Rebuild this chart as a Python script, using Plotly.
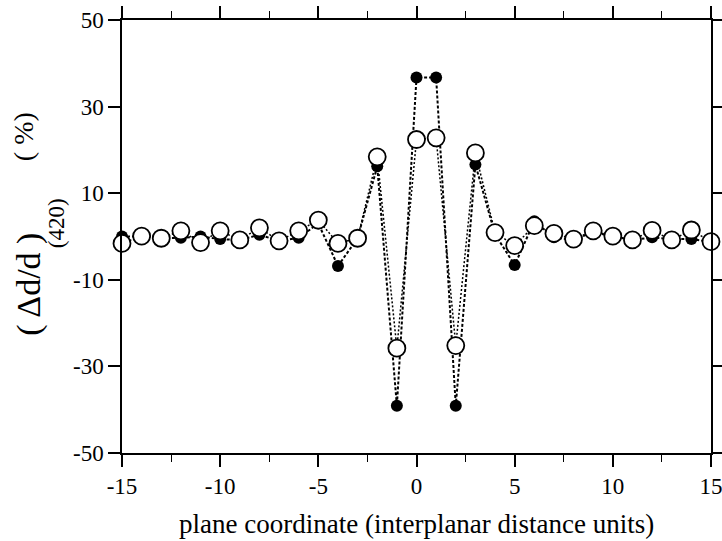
import plotly.graph_objects as go

# plane coordinate (interplanar distance units)
plane = list(range(-15, 16))

# filled circles: (Δd/d)(420) in %
filled_vals = [0.0, 0.0, -0.4, -0.3, 0.0, -0.6, -0.8, 0.4, -1.0, -0.3,
               3.0, -6.8, -0.4, 16.2, -39.1, 36.7, 36.7, -39.1, 16.6, 0.5,
               -6.6, 3.5, -0.2, -0.8, 1.0, 0.0, -0.8, -0.2, -0.6, -0.6, -1.2]

# open circles: (Δd/d)(420) in %
open_vals = [-1.6, 0.1, -0.4, 1.3, -1.4, 1.3, -0.8, 2.0, -1.0, 1.3,
             3.8, -1.6, -0.4, 18.4, -25.8, 22.4, 22.8, -25.2, 19.3, 0.9,
             -2.1, 2.5, 0.7, -0.6, 1.3, 0.1, -0.8, 1.4, -0.8, 1.5, -1.2]

x_ticks = [-15, -10, -5, 0, 5, 10, 15]
y_ticks = [-50, -30, -10, 10, 30, 50]

FONT = "Liberation Serif"

fig = go.Figure()
fig.add_trace(go.Scatter(
    x=plane, y=filled_vals, mode="lines+markers",
    line=dict(color="black", width=2, dash="3px,2px"),
    marker=dict(symbol="circle", size=12, color="black"),
    cliponaxis=False, showlegend=False))
fig.add_trace(go.Scatter(
    x=plane, y=open_vals, mode="lines+markers",
    line=dict(color="black", width=1.5, dash="2px,2px"),
    marker=dict(symbol="circle", size=17, color="white",
                line=dict(color="black", width=1.8)),
    cliponaxis=False, showlegend=False))

axis_common = dict(showline=True, linecolor="black", linewidth=1.5,
                   mirror="allticks", ticks="outside", ticklen=12,
                   tickwidth=1.5, tickcolor="black", showgrid=False,
                   zeroline=False, automargin=False,
                   ticklabeloverflow="allow",
                   tickfont=dict(family=FONT, size=23, color="black"))

fig.update_xaxes(range=[-15, 15], tickvals=x_ticks,
                 ticktext=[str(v) for v in x_ticks],
                 minor=dict(dtick=2.5, tick0=0, ticks="outside", ticklen=7,
                            tickwidth=1.2, tickcolor="black", showgrid=False),
                 **axis_common)
fig.update_yaxes(range=[-50, 50], tickvals=y_ticks,
                 ticktext=[str(v) for v in y_ticks],
                 **axis_common)

fig.add_annotation(text="plane coordinate (interplanar distance units)",
                   xref="paper", yref="paper", x=0.5, y=-0.165,
                   xanchor="center", yanchor="middle", showarrow=False,
                   font=dict(family=FONT, size=27, color="black"))
fig.add_annotation(text="( Δd/d )", xref="paper", yref="paper",
                   x=-0.157, y=0.39, xanchor="center", yanchor="middle",
                   textangle=-90, showarrow=False,
                   font=dict(family=FONT, size=34, color="black"))
fig.add_annotation(text="(420)", xref="paper", yref="paper",
                   x=-0.111, y=0.53, xanchor="center", yanchor="middle",
                   textangle=-90, showarrow=False,
                   font=dict(family=FONT, size=23, color="black"))
fig.add_annotation(text="( %)", xref="paper", yref="paper",
                   x=-0.166, y=0.73, xanchor="center", yanchor="middle",
                   textangle=-90, showarrow=False,
                   font=dict(family=FONT, size=28, color="black"))

fig.update_layout(width=722, height=541,
                  margin=dict(l=122, r=11, t=20, b=88),
                  paper_bgcolor="white", plot_bgcolor="white")

fig.write_html("out.html")
